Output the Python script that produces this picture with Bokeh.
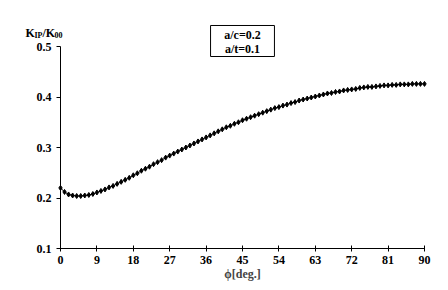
from bokeh.plotting import figure
from bokeh.models import Range1d, FixedTicker, Label, BoxAnnotation
from bokeh.embed import file_html
from bokeh.resources import INLINE

phi = list(range(0, 91))
k_ratio = [
    0.220, 0.212, 0.207, 0.205, 0.204, 0.204, 0.205, 0.206, 0.208, 0.211,
    0.214, 0.217, 0.221, 0.224, 0.228, 0.232, 0.236, 0.240, 0.245, 0.249,
    0.254, 0.258, 0.262, 0.267, 0.271, 0.275, 0.280, 0.284, 0.288, 0.292,
    0.296, 0.300, 0.304, 0.308, 0.312, 0.316, 0.320, 0.324, 0.328, 0.332,
    0.336, 0.340, 0.343, 0.347, 0.350, 0.354, 0.357, 0.360, 0.363, 0.366,
    0.369, 0.372, 0.375, 0.378, 0.380, 0.383, 0.385, 0.388, 0.390, 0.393,
    0.395, 0.397, 0.399, 0.401, 0.403, 0.405, 0.407, 0.408, 0.410, 0.411,
    0.413, 0.414, 0.415, 0.416, 0.418, 0.419, 0.420, 0.420, 0.421, 0.422,
    0.423, 0.423, 0.424, 0.424, 0.425, 0.425, 0.425, 0.426, 0.426, 0.426,
    0.426,
]
x_ticks = [0, 9, 18, 27, 36, 45, 54, 63, 72, 81, 90]
y_ticks = [0.1, 0.2, 0.3, 0.4, 0.5]
box_lines = ["a/c=0.2", "a/t=0.1"]

FONT = "Liberation Serif"

# frame extends beyond the axes so that the texts around the plot are not clipped
p = figure(width=440, height=282, output_backend="svg", toolbar_location=None,
           x_range=Range1d(-10.88, 91.98), y_range=Range1d(0.0327, 0.5515),
           min_border_left=16, min_border_right=8, min_border_top=20,
           min_border_bottom=0)
p.outline_line_color = None
p.xgrid.visible = False
p.ygrid.visible = False

p.line(phi, k_ratio, line_color="black", line_width=1)
p.scatter(phi, k_ratio, marker="diamond", size=5, fill_color="black",
          line_color="black")

for ax in (p.xaxis, p.yaxis):
    ax.axis_line_color = "black"
    ax.axis_line_width = 1
    ax.major_tick_line_color = "black"
    ax.minor_tick_line_color = None
    ax.major_label_text_font = FONT
    ax.major_label_text_font_style = "bold"
    ax.major_label_text_font_size = "12px"
    ax.major_label_text_color = "black"

p.xaxis.ticker = FixedTicker(ticks=x_ticks)
p.yaxis.ticker = FixedTicker(ticks=y_ticks)
p.xaxis.bounds = (0, 90)
p.yaxis.bounds = (0.1, 0.5)
p.yaxis.fixed_location = 0
p.xaxis.fixed_location = 0.1
p.xaxis.major_tick_out = 3
p.xaxis.major_tick_in = 3
p.yaxis.major_tick_out = 4
p.yaxis.major_tick_in = 0
p.xaxis.major_label_standoff = 4
p.yaxis.major_label_standoff = 5
p.yaxis.formatter.use_scientific = False

p.xaxis.axis_label = "ϕ[deg.]"
p.xaxis.axis_label_text_font = FONT
p.xaxis.axis_label_text_font_style = "bold"
p.xaxis.axis_label_text_font_size = "12px"
p.xaxis.axis_label_standoff = 0

# y-axis title K_IP/K_00 above the axis
parts = [("K", -8.65, 0.5277, "12px"), ("IP", -6.43, 0.5218, "8px"),
         ("/K", -4.45, 0.5277, "12px"), ("00", -1.48, 0.5218, "8px")]
for txt, xx, yy, fs in parts:
    p.add_layout(Label(x=xx, y=yy, text=txt, text_font=FONT,
                       text_font_style="bold", text_font_size=fs,
                       text_color="black", text_align="left",
                       text_baseline="alphabetic"))

# parameter box
p.add_layout(BoxAnnotation(left=37.1, right=52.9, bottom=0.4802, top=0.5416,
                           fill_color="white", fill_alpha=1.0,
                           line_color="black", line_width=1,
                           line_alpha=1.0))
for txt, yy in zip(box_lines, [0.5218, 0.4960]):
    p.add_layout(Label(x=45, y=yy, text=txt, text_font=FONT,
                       text_font_style="bold", text_font_size="12px",
                       text_color="black", text_align="center",
                       text_baseline="middle"))

open("out.html", "w").write(file_html(p, INLINE))
